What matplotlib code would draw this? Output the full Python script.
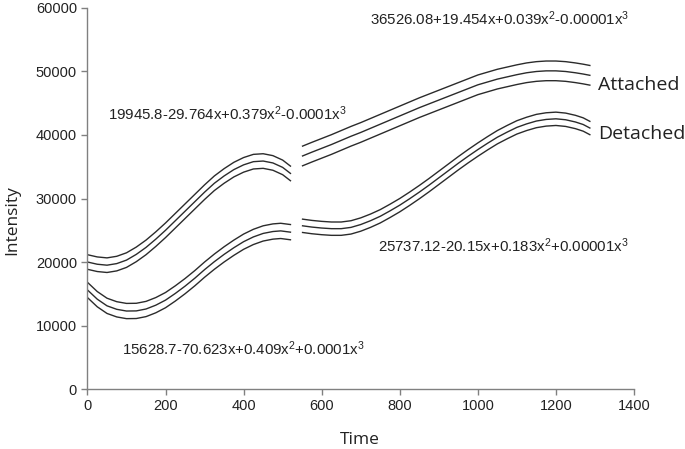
import matplotlib
matplotlib.use("Agg")
import matplotlib.pyplot as plt

# ---- data ----
att1_x = [0, 25, 50, 75, 100, 125, 150, 175, 200, 225, 250, 275, 300, 325, 350, 375, 400,
          425, 450, 475, 500, 520]
att1_y = [20000, 19650, 19500, 19750, 20300, 21200, 22300, 23600, 25000, 26500, 28000, 29500,
          31000, 32400, 33550, 34550, 35300, 35800, 35900, 35600, 34900, 33950]
att1_band = 1150

det1_x = [0, 25, 50, 75, 100, 125, 150, 175, 200, 225, 250, 275, 300, 325, 350, 375, 400,
          425, 450, 475, 495, 520]
det1_y = [15600, 14150, 13100, 12550, 12280, 12300, 12600, 13200, 14000, 15050, 16200, 17450,
          18800, 20050, 21200, 22250, 23200, 23950, 24500, 24800, 24900, 24700]
det1_band = 1200

att2_x = [551, 575, 600, 625, 650, 675, 700, 725, 750, 775, 800, 825, 850, 875, 900, 925, 950,
          975, 1000, 1025, 1050, 1075, 1100, 1125, 1150, 1175, 1200, 1225, 1250, 1270, 1287]
att2_y = [36700, 37300, 37900, 38500, 39150, 39800, 40400, 41050, 41700, 42350, 43000, 43650,
          44300, 44900, 45500, 46100, 46700, 47300, 47900, 48350, 48800, 49150, 49500, 49800,
          50000, 50100, 50100, 50000, 49800, 49600, 49400]
att2_band = 1550

det2_x = [551, 575, 600, 625, 650, 675, 700, 725, 750, 775, 800, 825, 850, 875, 900, 925, 950,
          975, 1000, 1025, 1050, 1075, 1100, 1125, 1150, 1175, 1200, 1225, 1250, 1270, 1287]
det2_y = [25700, 25500, 25350, 25250, 25250, 25450, 25900, 26500, 27200, 28050, 28950, 29950,
          31000, 32100, 33250, 34400, 35550, 36650, 37700, 38700, 39650, 40450, 41200, 41750,
          42200, 42450, 42550, 42400, 42050, 41650, 41100]
det2_band = 1050

eq_labels = [
    "19945.8-29.764x+0.379x$^2$-0.0001x$^3$",
    "36526.08+19.454x+0.039x$^2$-0.00001x$^3$",
    "25737.12-20.15x+0.183x$^2$+0.00001x$^3$",
    "15628.7-70.623x+0.409x$^2$+0.0001x$^3$",
]
eq_pos = [(52, 43400), (724, 58300), (744, 22600), (88, 6400)]
group_labels = ["Attached", "Detached"]
group_pos = [(1307, 47900), (1307, 40100)]

x_ticks = [0, 200, 400, 600, 800, 1000, 1200, 1400]
y_ticks = [0, 10000, 20000, 30000, 40000, 50000, 60000]

# ---- figure ----
plt.rcParams['font.family'] = ['Liberation Sans', 'DejaVu Sans']
plt.rcParams['mathtext.fontset'] = 'custom'
plt.rcParams['mathtext.rm'] = 'Liberation Sans'
plt.rcParams['mathtext.it'] = 'Liberation Sans'

fig = plt.figure(figsize=(6.85, 4.49), dpi=100)
ax = fig.add_axes([0.1277, 0.1336, 0.9255 - 0.1277, 0.9822 - 0.1336])

line_kw = dict(color="#2b2b2b", lw=1.0)
for xs, ys, b in [(att1_x, att1_y, att1_band), (det1_x, det1_y, det1_band),
                  (att2_x, att2_y, att2_band), (det2_x, det2_y, det2_band)]:
    ax.plot(xs, [v + b for v in ys], **line_kw)
    ax.plot(xs, ys, **line_kw)
    ax.plot(xs, [v - b for v in ys], **line_kw)

for lab, (px, py) in zip(eq_labels, eq_pos):
    ax.text(px, py, lab, fontsize=10.8, color="#222222", ha="left", va="center")

for lab, (px, py) in zip(group_labels, group_pos):
    ax.text(px, py, lab, fontsize=14, color="#222222", ha="left", va="center",
            family=["Open Sans", "DejaVu Sans"])

ax.set_xlim(0, 1400)
ax.set_ylim(0, 60000)
ax.set_xticks(x_ticks)
ax.set_yticks(y_ticks)
ax.tick_params(direction="out", length=4, width=1, color="#808080",
               labelsize=10.5, labelcolor="#222222")
for s in ["top", "right"]:
    ax.spines[s].set_visible(False)
for s in ["left", "bottom"]:
    ax.spines[s].set_color("#808080")
    ax.spines[s].set_linewidth(1.0)

ax.set_xlabel("Time", fontsize=12.5, color="#222222",
              family=["Open Sans", "DejaVu Sans"], va="center")
ax.set_ylabel("Intensity", fontsize=12.5, color="#222222",
              family=["Open Sans", "DejaVu Sans"], va="center")
ax.xaxis.set_label_coords(0.4986, -0.134)
ax.yaxis.set_label_coords(-0.138, 0.4436)

fig.savefig("out.png", dpi=100)
